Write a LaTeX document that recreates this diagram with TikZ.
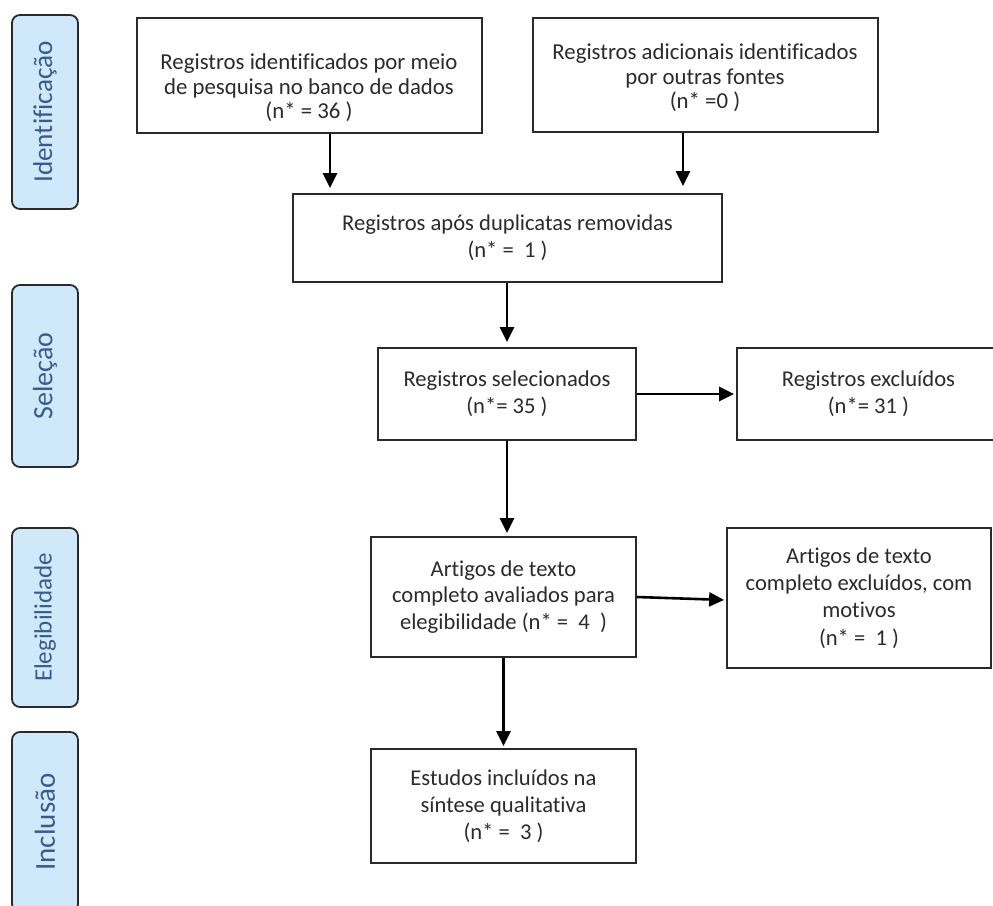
\documentclass[tikz,border=0pt]{standalone}
\usepackage{fontspec}
\setmainfont{Carlito}[Ligatures=NoCommon]
\usetikzlibrary{arrows.meta}
\definecolor{boxline}{HTML}{2A2A2A}
\definecolor{boxtext}{HTML}{2B2B2B}
\definecolor{lblfill}{HTML}{CFE9FB}
\definecolor{lbltext}{HTML}{3A5A8C}
\tikzset{
  pbox/.style={draw=boxline, line width=0.9pt, rectangle, inner sep=0pt, align=center, text=boxtext,
    font=\fontsize{11.3}{13.4}\selectfont},
  ptext/.style={inner sep=0pt, align=center, text=boxtext, font=\fontsize{11.4}{12.3}\selectfont},
  phase/.style={draw=boxline, line width=0.9pt, fill=lblfill, rounded corners=4pt, inner sep=0pt,
    minimum width=33pt, text=lbltext},
  phasetext/.style={rotate=90, inner sep=0pt, text=lbltext},
  arr/.style={line width=1.3pt, -{Triangle[length=7.5pt,width=7pt]}}
}
\begin{document}
\begin{tikzpicture}[x=0.5pt,y=-0.5pt]
\clip (0,0) rectangle (993,906);
\fill[white] (0,0) rectangle (993,906);

% phase labels
\node[phase, minimum height=97pt] (L1) at (45,112) {};
\node[phasetext, font=\fontsize{13.6}{16}\selectfont] (T1) at (L1.center) {Identificação};
\node[phase, minimum height=91pt] (L2) at (45,376) {};
\node[phasetext, font=\fontsize{14}{16}\selectfont] (T2) at (L2.center) {Seleção};
\node[phase, minimum height=89.5pt] (L3) at (45,617.5) {};
\node[phasetext, font=\fontsize{12.5}{14}\selectfont] (T3) at (L3.center) {Elegibilidade};
\node[phase, minimum height=90pt] (L4) at (45,822) {};
\node[phasetext, font=\fontsize{14.5}{16}\selectfont] (T4) at (L4.center) {Inclusão};

% boxes
\node[pbox, minimum width=172.5pt, minimum height=57.5pt] (b1) at (309.5,75.5) {};
\node[ptext] (t1) at (309,88) {Registros identificados por meio\\de pesquisa no banco de dados\\(n* = 36 )};
\node[pbox, minimum width=172.5pt, minimum height=57pt] (b2) at (705.5,75) {};
\node[ptext] (t2) at (705,78) {Registros adicionais identificados\\por outras fontes\\(n* =0 )};
\node[pbox, minimum width=214.5pt, minimum height=44pt] (b3) at (507.5,238)
  {Registros após duplicatas removidas\\(n* =~~1 )};
\node[pbox, minimum width=129pt, minimum height=46pt] (b4) at (507,394)
  {Registros selecionados\\(n*=~35 )};
\node[pbox, minimum width=131.5pt, minimum height=46pt] (b5) at (868.5,394)
  {Registros excluídos\\(n*= 31 )};
\node[pbox, minimum width=132.5pt, minimum height=60pt] (b6) at (503.5,597)
  {Artigos de texto\\completo avaliados para\\elegibilidade (n* =~~4~~)};
\node[pbox, minimum width=132pt, minimum height=70pt, font=\fontsize{11.3}{13.7}\selectfont] (b7) at (859,598)
  {Artigos de texto\\completo excluídos, com\\motivos\\(n* =~~1 )};
\node[pbox, minimum width=132.5pt, minimum height=57pt] (b8) at (503.5,806)
  {Estudos incluídos na\\síntese qualitativa\\(n* =~~3 )};

% arrow columns
\coordinate (c1) at (330,0);
\coordinate (c2) at (683,0);

% connectors
\draw[arr, shorten >=2.5pt] (b1.south -| c1) -- (b3.north -| c1);
\draw[arr, shorten >=3.5pt] (b2.south -| c2) -- (b3.north -| c2);
\draw[arr, shorten >=2.5pt] (b3.south -| b4.north) -- (b4.north);
\draw[arr, shorten >=1.5pt] (b4.south) -- (b4.south |- b6.north);
\draw[arr, shorten >=1pt] (b6.south) -- (b8.north);
\draw[arr, shorten >=1pt] (b4.east) -- (b5.west);
\draw[arr, shorten >=1pt] (b6.east) -- ([yshift=-1pt]b7.west);
\end{tikzpicture}
\end{document}
